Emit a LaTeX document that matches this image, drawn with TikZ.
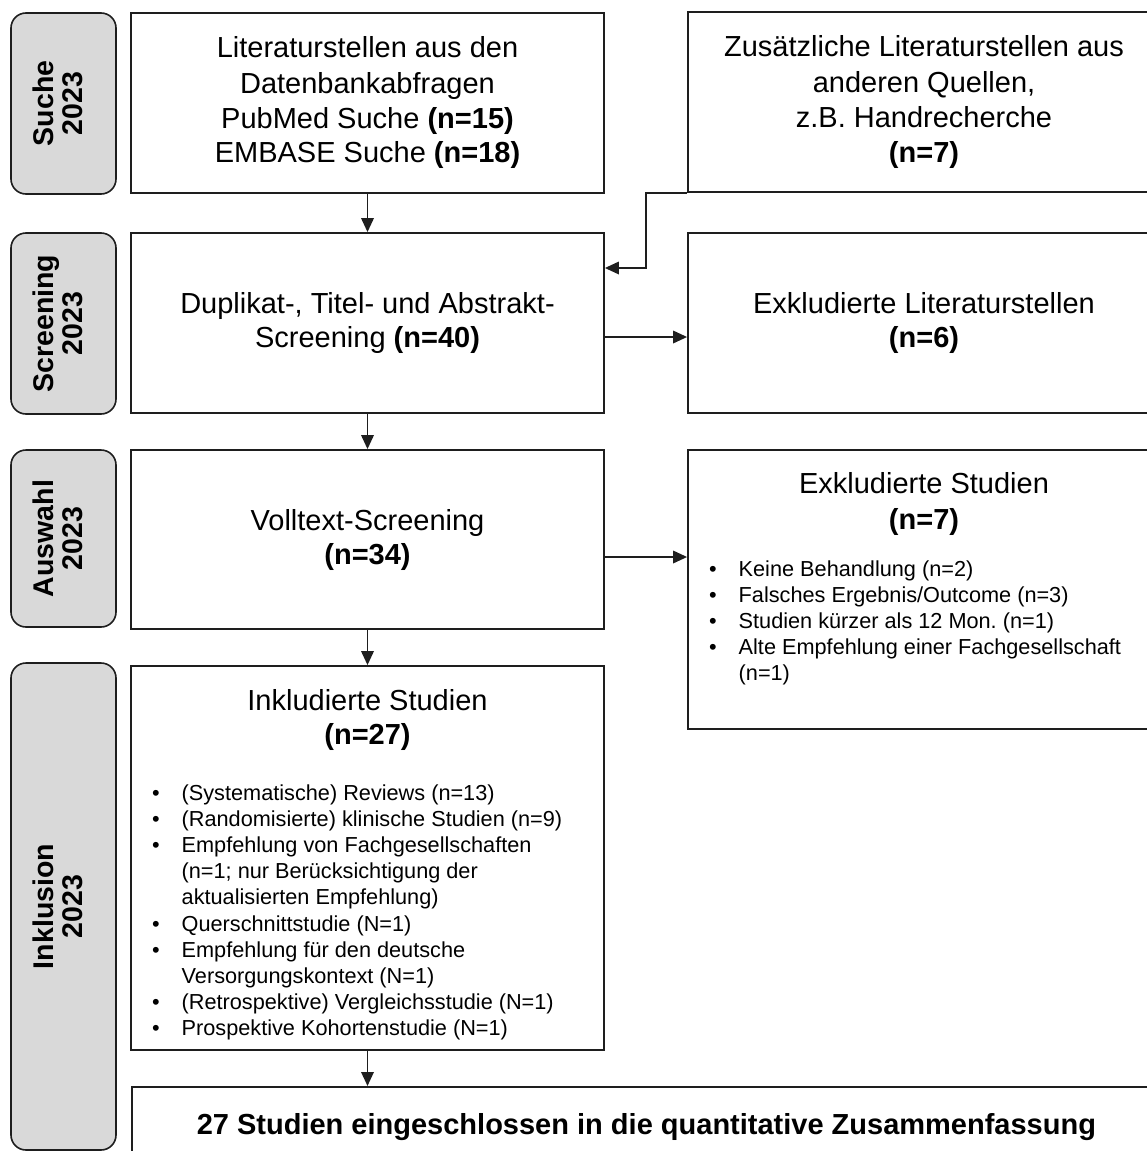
\documentclass[tikz,border=0pt]{standalone}
\usepackage{fontspec}
\setmainfont{Liberation Sans}
\usetikzlibrary{arrows.meta}
\definecolor{lanegray}{RGB}{217,217,217}
\definecolor{edge}{RGB}{30,30,30}
% bullet line and continuation line of an itemised block
\newcommand\bitem[1]{\hbox{\makebox[29.5pt][l]{\textbullet}#1}}
\newcommand\bcont[1]{\hbox{\hspace*{29.5pt}#1}}
\frenchspacing

\begin{document}
\begin{tikzpicture}[x=1pt,y=-1pt,
  lane/.style={draw=edge, line width=1.6pt, fill=lanegray, rounded corners=15pt, inner sep=0pt},
  box/.style={draw=edge, line width=1.8pt, fill=white, inner sep=0pt},
  big/.style={font=\fontsize{29pt}{35pt}\selectfont, align=center, text=black},
  bigtwo/.style={font=\fontsize{29pt}{34pt}\selectfont, align=center, text=black},
  lanelabel/.style={rotate=90, align=center, inner sep=0pt, font=\bfseries\fontsize{28.5pt}{29pt}\selectfont},
  flow/.style={draw=edge, line width=1.8pt, -{Triangle[length=14pt,width=12.5pt]}},
  list/.style={font=\fontsize{21.7pt}{26.2pt}\selectfont, anchor=base west, inner sep=0pt}
]
\useasboundingbox (0,0) rectangle (1147,1151);

% phase lanes on the left
\node[lane, minimum width=105pt, minimum height=181pt] (l1) at (63.5,103.5) {};
\node[lane, minimum width=105pt, minimum height=181pt] (l2) at (63.5,323.5) {};
\node[lane, minimum width=105pt, minimum height=177pt] (l3) at (63.5,538.5) {};
\node[lane, minimum width=105pt, minimum height=487pt] (l4) at (63.5,906.5) {};
\node[lanelabel] (t1) at (58,103.5) {Suche\\2023};
\node[lanelabel] (t2) at (58,323.5) {Screening\\2023};
\node[lanelabel] (t3) at (58,538.5) {Auswahl\\2023};
\node[lanelabel] (t4) at (58,906.5) {Inklusion\\2023};

% main column
\node[box, big, minimum width=473pt, minimum height=180pt] (b1) at (367.5,103)
  {Literaturstellen aus den\\Datenbankabfragen\\PubMed Suche \textbf{(n=15)}\\EMBASE Suche \textbf{(n=18)}};
\node[box, bigtwo, minimum width=473pt, minimum height=180pt] (b2) at (367.5,323)
  {Duplikat-, Titel- und Abstrakt-\\Screening \textbf{(n=40)}};
\node[box, bigtwo, minimum width=473pt, minimum height=179pt] (b3) at (367.5,539.5)
  {Volltext-Screening\\\textbf{(n=34)}};
\node[box, minimum width=473pt, minimum height=384pt] (b4) at (367.5,858) {};
\node[bigtwo] (b4t) at (367.5,720) {Inkludierte Studien\\\textbf{(n=27)}};
\node[list] (b4l) at (152,800) {\vtop{%
  \bitem{(Systematische) Reviews (n=13)}
  \bitem{(Randomisierte) klinische Studien (n=9)}
  \bitem{Empfehlung von Fachgesellschaften}
  \bcont{(n=1; nur Berücksichtigung der}
  \bcont{aktualisierten Empfehlung)}
  \bitem{Querschnittstudie (N=1)}
  \bitem{Empfehlung für den deutsche}
  \bcont{Versorgungskontext (N=1)}
  \bitem{(Retrospektive) Vergleichsstudie (N=1)}
  \bitem{Prospektive Kohortenstudie (N=1)}}};

% right column
\node[box, big, minimum width=472pt, minimum height=180pt] (r1) at (924,102)
  {Zusätzliche Literaturstellen aus\\anderen Quellen,\\z.B. Handrecherche\\\textbf{(n=7)}};
\node[box, bigtwo, minimum width=472pt, minimum height=180pt] (r2) at (924,323)
  {Exkludierte Literaturstellen\\\textbf{(n=6)}};
\node[box, minimum width=472pt, minimum height=279pt] (r3) at (924,589.5) {};
\node[font=\fontsize{29pt}{36pt}\selectfont, align=center] (r3t) at (924,504)
  {Exkludierte Studien\\\textbf{(n=7)}};
\node[list] (r3l) at (709,576) {\vtop{%
  \bitem{Keine Behandlung (n=2)}
  \bitem{Falsches Ergebnis/Outcome (n=3)}
  \bitem{Studien kürzer als 12 Mon. (n=1)}
  \bitem{Alte Empfehlung einer Fachgesellschaft}
  \bcont{(n=1)}}};

% summary bar along the bottom
\node[box, font=\bfseries\fontsize{29pt}{35pt}\selectfont, minimum width=1029pt, minimum height=80pt, anchor=north west] (fin) at (131,1086)
  {27 Studien eingeschlossen in die quantitative Zusammenfassung};

% connectors
\draw[flow] (b1.south) -- (b2.north);
\draw[flow] (b2.south) -- (b3.north);
\draw[flow] (b3.south) -- (b4.north);
\draw[flow] (b4.south) -- (b4.south |- fin.north);
\draw[flow] ([yshift=-14pt]b2.east) -- ([yshift=-14pt]r2.west);
\draw[flow] ([yshift=-17.5pt]b3.east) -- ([yshift=-17.5pt]b3.east -| r3.west);
\draw[flow] (r1.south west) -- ++(-41,0) |- ([yshift=55pt]b2.east);
\end{tikzpicture}
\end{document}
